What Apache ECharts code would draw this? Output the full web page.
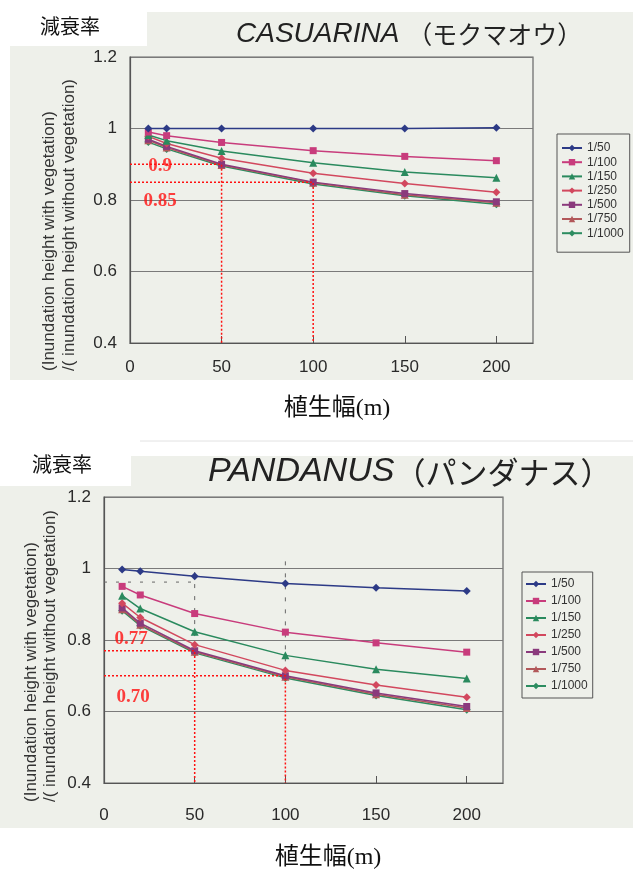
<!DOCTYPE html>
<html>
<head>
<meta charset="utf-8">
<script src="https://cdn.jsdelivr.net/npm/echarts@6/dist/echarts.min.js"></script>
<style>
  html, body { margin: 0; padding: 0; background: #ffffff; }
  #chart { width: 633px; height: 873px; }
</style>
</head>
<body>
<div id="chart"></div>
<script>
// Vegetation width (m) along the x axis
const distances = [10, 20, 50, 100, 150, 200];
const xTicks = [0, 50, 100, 150, 200];
const yTicks = [0.4, 0.6, 0.8, 1.0, 1.2];
// Ground slopes, one line each
const slopes = ['1/50', '1/100', '1/150', '1/250', '1/500', '1/750', '1/1000'];

// Reduction ratio: CASUARINA
const cas_1_50   = [1.000, 1.000, 1.000, 1.000, 1.000, 1.002];
const cas_1_100  = [0.990, 0.980, 0.961, 0.938, 0.922, 0.910];
const cas_1_150  = [0.982, 0.966, 0.937, 0.904, 0.878, 0.862];
const cas_1_250  = [0.978, 0.958, 0.917, 0.875, 0.846, 0.822];
const cas_1_500  = [0.970, 0.950, 0.900, 0.850, 0.818, 0.795];
const cas_1_750  = [0.967, 0.947, 0.898, 0.848, 0.815, 0.792];
const cas_1_1000 = [0.962, 0.943, 0.895, 0.845, 0.812, 0.788];

// Reduction ratio: PANDANUS
const pan_1_50   = [0.997, 0.992, 0.978, 0.958, 0.946, 0.937];
const pan_1_100  = [0.950, 0.926, 0.874, 0.822, 0.792, 0.766];
const pan_1_150  = [0.924, 0.888, 0.823, 0.757, 0.718, 0.692];
const pan_1_250  = [0.903, 0.863, 0.787, 0.715, 0.674, 0.640];
const pan_1_500  = [0.890, 0.847, 0.770, 0.700, 0.652, 0.614];
const pan_1_750  = [0.886, 0.843, 0.767, 0.697, 0.648, 0.610];
const pan_1_1000 = [0.882, 0.840, 0.764, 0.694, 0.645, 0.605];

// Read-off guides (width, ratio, label)
const casGuideX = [50, 100];
const casGuideY = [0.9, 0.85];
const casGuideText = ['0.9', '0.85'];
const panGuideX = [50, 100];
const panGuideY = [0.77, 0.70];
const panGuideText = ['0.77', '0.70'];

const casSeries = [cas_1_50, cas_1_100, cas_1_150, cas_1_250, cas_1_500, cas_1_750, cas_1_1000];
const panSeries = [pan_1_50, pan_1_100, pan_1_150, pan_1_250, pan_1_500, pan_1_750, pan_1_1000];

const colors  = ['#2c3a86', '#c83c7c', '#2a8a5e', '#d2485e', '#8a3a7c', '#b2585a', '#2c8c60'];
const symbols = ['diamond', 'rect', 'triangle', 'diamond', 'rect', 'triangle', 'diamond'];
const symSize = [8, 7, 8, 8, 7, 8, 8];

const FONT = '"Liberation Sans", Arial, sans-serif';
const JP = '"Noto Sans CJK JP", sans-serif';

function lineSeries(values, gi) {
  return values.map((vals, i) => ({
    name: slopes[i],
    type: 'line',
    xAxisIndex: gi, yAxisIndex: gi,
    data: distances.map((d, k) => [d, vals[k]]),
    symbol: symbols[i],
    symbolSize: symSize[i],
    color: colors[i],
    lineStyle: { width: 1.5, color: colors[i] },
    itemStyle: { color: colors[i] },
    z: 3 + (7 - i) * 0.01,
    animation: false
  }));
}

function guideSeries(gx, gy, texts, gi, labelPos) {
  const out = [];
  gx.forEach((x, i) => {
    out.push({
      type: 'line', xAxisIndex: gi, yAxisIndex: gi, silent: true,
      data: [[0, gy[i]], [x, gy[i]], [x, 0.4]],
      symbol: 'none',
      lineStyle: { color: '#ff1010', width: 1.5, type: [2, 2] },
      z: 4, animation: false
    });
    out.push({
      type: 'scatter', xAxisIndex: gi, yAxisIndex: gi, silent: true,
      data: [[labelPos[i][0], gy[i]]],
      symbolSize: 0,
      label: {
        show: true, position: 'inside', offset: [0, labelPos[i][1]],
        formatter: texts[i],
        color: '#ff1010', fontSize: 19, fontWeight: 'bold',
        fontFamily: '"Liberation Serif", "Times New Roman", serif'
      },
      z: 5, animation: false
    });
  });
  return out;
}

function xAxis(gi, margin) {
  return {
    type: 'value', gridIndex: gi, min: 0, max: 220, interval: 50,
    axisLine: { show: true, lineStyle: { color: '#555', width: 1.2 } },
    axisTick: { show: true, inside: true, length: 7, customValues: xTicks, lineStyle: { color: '#555' } },
    axisLabel: { customValues: xTicks, margin: margin, fontSize: 17, color: '#2a2a2a', fontFamily: FONT },
    splitLine: { show: false }
  };
}
function yAxis(gi) {
  return {
    type: 'value', gridIndex: gi, min: 0.4, max: 1.2, interval: 0.2,
    axisLine: { show: true, lineStyle: { color: '#555', width: 1.2 } },
    axisTick: { show: false },
    axisLabel: {
      customValues: yTicks, margin: 13, fontSize: 17, color: '#2a2a2a', fontFamily: FONT,
      formatter: v => String(Math.round(v * 10) / 10)
    },
    splitLine: { show: true, lineStyle: { color: '#7a7a7a', width: 1.2 } }
  };
}

function yName(x1, x2, yStart, z) {
  const style = { fontSize: 17, fill: '#333', fontFamily: FONT, textAlign: 'left', textVerticalAlign: 'middle' };
  return [
    { type: 'text', x: x1, y: yStart, rotation: Math.PI / 2, z: z,
      style: Object.assign({ text: '(Inundation height with vegetation)' }, style) },
    { type: 'text', x: x2, y: yStart, rotation: Math.PI / 2, z: z,
      style: Object.assign({ text: '/( inundation height without vegetation)' }, style) }
  ];
}

function titleText(x, y, en, gap, jp, enSize, jpSize) {
  return {
    type: 'text', x: x, y: y, z: 2,
    style: {
      text: '{en|' + en + gap + '}{jp|' + jp + '}',
      textVerticalAlign: 'middle',
      rich: {
        en: { fontSize: enSize, fontStyle: 'italic', fontFamily: FONT, fill: '#222' },
        jp: { fontSize: jpSize, fontFamily: JP, fill: '#222' }
      }
    }
  };
}

const chart = echarts.init(document.getElementById('chart'), null, { renderer: 'canvas' });

chart.setOption({
  backgroundColor: '#ffffff',
  animation: false,
  graphic: [
    // panels
    { type: 'rect', shape: { x: 10, y: 12, width: 623, height: 368 }, style: { fill: '#eef0ea' }, z: -10 },
    { type: 'rect', shape: { x: 0, y: 0, width: 147, height: 46 }, style: { fill: '#ffffff' }, z: -9 },
    { type: 'rect', shape: { x: 0, y: 456, width: 633, height: 372 }, style: { fill: '#eef0ea' }, z: -10 },
    { type: 'rect', shape: { x: 0, y: 446, width: 131, height: 40 }, style: { fill: '#ffffff' }, z: -9 },
    { type: 'line', shape: { x1: 140, y1: 441, x2: 633, y2: 441 }, style: { stroke: '#e2e2e2', lineWidth: 1 }, z: -9 },
    // captions
    { type: 'text', x: 40, y: 26, z: 2, style: { text: '減衰率', fontSize: 20, fill: '#111', fontFamily: JP, textVerticalAlign: 'middle' } },
    { type: 'text', x: 32, y: 464, z: 2, style: { text: '減衰率', fontSize: 20, fill: '#111', fontFamily: JP, textVerticalAlign: 'middle' } },
    titleText(236, 34, 'CASUARINA', ' ', '（モクマオウ）', 28, 25),
    titleText(208, 472, 'PANDANUS', '', '（パンダナス）', 34, 31),
    { type: 'text', x: 337, y: 409, z: 2, style: { text: '植生幅(m)', fontSize: 24, fill: '#111', fontFamily: '"Liberation Serif", "Noto Sans CJK JP", serif', textAlign: 'center', textVerticalAlign: 'middle' } },
    { type: 'text', x: 328, y: 858, z: 2, style: { text: '植生幅(m)', fontSize: 24, fill: '#111', fontFamily: '"Liberation Serif", "Noto Sans CJK JP", serif', textAlign: 'center', textVerticalAlign: 'middle' } }
  ].concat(yName(49, 69, 371, 2), yName(31, 50, 802, 2)),
  grid: [
    { left: 130, top: 57, right: 100, bottom: 530, show: true, borderColor: '#666', borderWidth: 1.2, backgroundColor: 'transparent' },
    { left: 104, top: 497, right: 130, bottom: 90, show: true, borderColor: '#666', borderWidth: 1.2, backgroundColor: 'transparent' }
  ],
  xAxis: [xAxis(0, 16), xAxis(1, 24)],
  yAxis: [yAxis(0), yAxis(1)],
  legend: [
    {
      data: slopes,
      orient: 'vertical', left: 557, top: 134,
      itemWidth: 20, itemHeight: 8, itemGap: 0.2,
      padding: [7, 6, 12, 4],
      borderColor: '#555', borderWidth: 1, backgroundColor: '#eef0ea',
      textStyle: { fontSize: 12, lineHeight: 14, color: '#333', fontFamily: FONT },
      selectedMode: false
    },
    {
      data: slopes,
      orient: 'vertical', left: 522, top: 572,
      itemWidth: 20, itemHeight: 8, itemGap: 3,
      padding: [5, 5, 5, 3],
      borderColor: '#555', borderWidth: 1, backgroundColor: '#eef0ea',
      textStyle: { fontSize: 12, lineHeight: 14, color: '#333', fontFamily: FONT },
      selectedMode: false
    }
  ],
  series: [].concat(
    lineSeries(casSeries, 0),
    lineSeries(panSeries, 1),
    guideSeries(casGuideX, casGuideY, casGuideText, 0, [[16.5, 2], [16.5, 19]]),
    guideSeries(panGuideX, panGuideY, panGuideText, 1, [[15, -12], [16, 21]]),
    // faint pencil guides on the PANDANUS plot
    [
      { type: 'line', xAxisIndex: 1, yAxisIndex: 1, silent: true, symbol: 'none',
        data: [[0, 0.962], [48, 0.962]],
        lineStyle: { color: '#666', width: 1, type: [3, 9] }, z: 2, animation: false },
      { type: 'line', xAxisIndex: 1, yAxisIndex: 1, silent: true, symbol: 'none',
        data: [[50, 0.99], [50, 0.78]],
        lineStyle: { color: '#666', width: 1, type: [4, 8] }, z: 2, animation: false },
      { type: 'line', xAxisIndex: 1, yAxisIndex: 1, silent: true, symbol: 'none',
        data: [[100, 1.02], [100, 0.71]],
        lineStyle: { color: '#666', width: 1, type: [4, 8] }, z: 2, animation: false }
    ]
  )
});
</script>
</body>
</html>
